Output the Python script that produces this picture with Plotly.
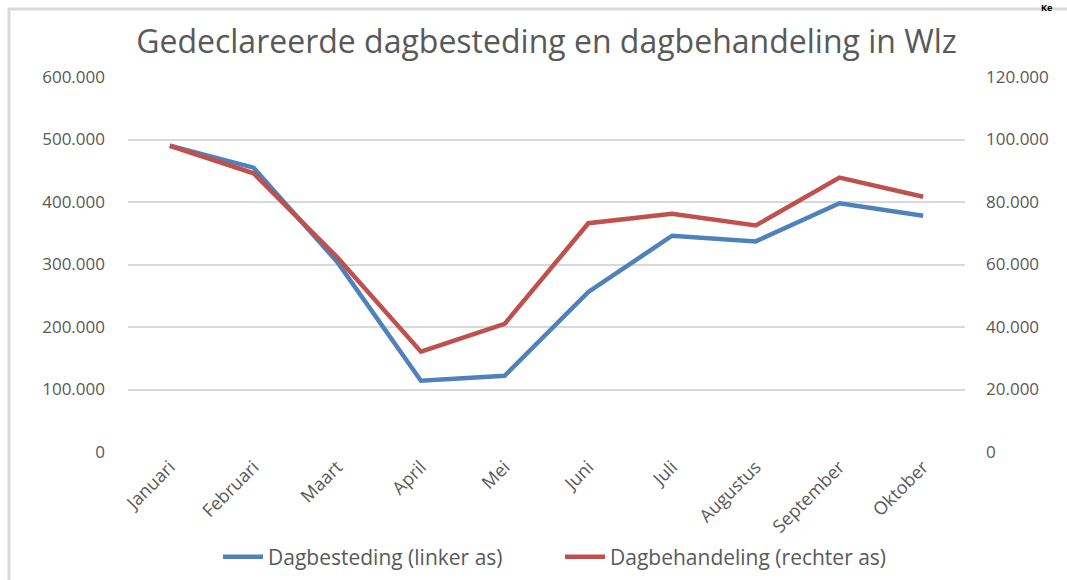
import plotly.graph_objects as go

maanden = ["Januari", "Februari", "Maart", "April", "Mei", "Juni", "Juli",
           "Augustus", "September", "Oktober"]
dagbesteding = [490000, 455000, 304000, 114000, 122000, 256000, 346000, 337000, 398000, 378000]
dagbehandeling = [98000, 89200, 62300, 32100, 41000, 73200, 76200, 72500, 87800, 81700]
left_ticks = [0, 100000, 200000, 300000, 400000, 500000, 600000]
right_ticks = [0, 20000, 40000, 60000, 80000, 100000, 120000]

BLUE = "#4F81BD"
RED = "#C0504D"
GREY = "#595959"
FONT = "Open Sans"

fig = go.Figure()
fig.add_trace(go.Scatter(x=maanden, y=dagbesteding, name="Dagbesteding (linker as)",
                         mode="lines", line=dict(color=BLUE, width=4.5), yaxis="y"))
fig.add_trace(go.Scatter(x=maanden, y=dagbehandeling, name="Dagbehandeling (rechter as)",
                         mode="lines", line=dict(color=RED, width=4.5), yaxis="y2"))

fig.update_layout(
    width=1067, height=580,
    margin=dict(l=128, r=102, t=77, b=128, autoexpand=False),
    paper_bgcolor="white", plot_bgcolor="white",
    separators=",.",
    font=dict(family=FONT, color=GREY, size=17),
    title=dict(text="Gedeclareerde dagbesteding en dagbehandeling in Wlz",
               x=0.5, xref="paper", xanchor="center", y=1 - 42 / 580, yanchor="middle",
               font=dict(family=FONT, size=32, color=GREY)),
    xaxis=dict(type="category", tickangle=-45, showgrid=False, showline=False,
               ticks="", tickfont=dict(size=18, color=GREY), range=[-0.5, 9.5],
               automargin=False),
    yaxis=dict(range=[0, 600000], tickvals=left_ticks, tickformat=",d",
               showgrid=True, gridcolor="#D9D9D9", gridwidth=1.5, zeroline=False,
               showline=False, ticks="", ticklabelstandoff=22, automargin=False,
               tickfont=dict(size=17, color=GREY)),
    yaxis2=dict(range=[0, 120000], tickvals=right_ticks, tickformat=",d",
                overlaying="y", side="right", showgrid=False, zeroline=False,
                showline=False, ticks="", ticklabelstandoff=20, automargin=False,
                tickfont=dict(size=17, color=GREY)),
    legend=dict(orientation="h", xref="paper", x=(218 - 128) / 837, xanchor="left",
                yref="container", y=1 - 557 / 580, yanchor="middle",
                font=dict(size=21, color=GREY), itemwidth=40,
                entrywidth=287, entrywidthmode="pixels",
                traceorder="normal"),
    showlegend=True,
)

fig.add_shape(type="rect", xref="paper", yref="paper",
              x0=(9 - 128) / 837, x1=1.3, y0=-0.5, y1=(452 - 9) / 375,
              line=dict(color="#D9D9D9", width=3), fillcolor="rgba(0,0,0,0)", layer="below")

fig.add_annotation(text="<b>Ke</b>", xref="paper", yref="paper",
                   x=(1040 - 128) / 837, y=452 / 375, xanchor="left", yanchor="top",
                   showarrow=False, font=dict(family=FONT, size=9, color="black"),
                   borderpad=0)

fig.write_html("out.html", config={"displayModeBar": False},
               post_script="document.body.style.margin='0';document.body.style.padding='0';")
